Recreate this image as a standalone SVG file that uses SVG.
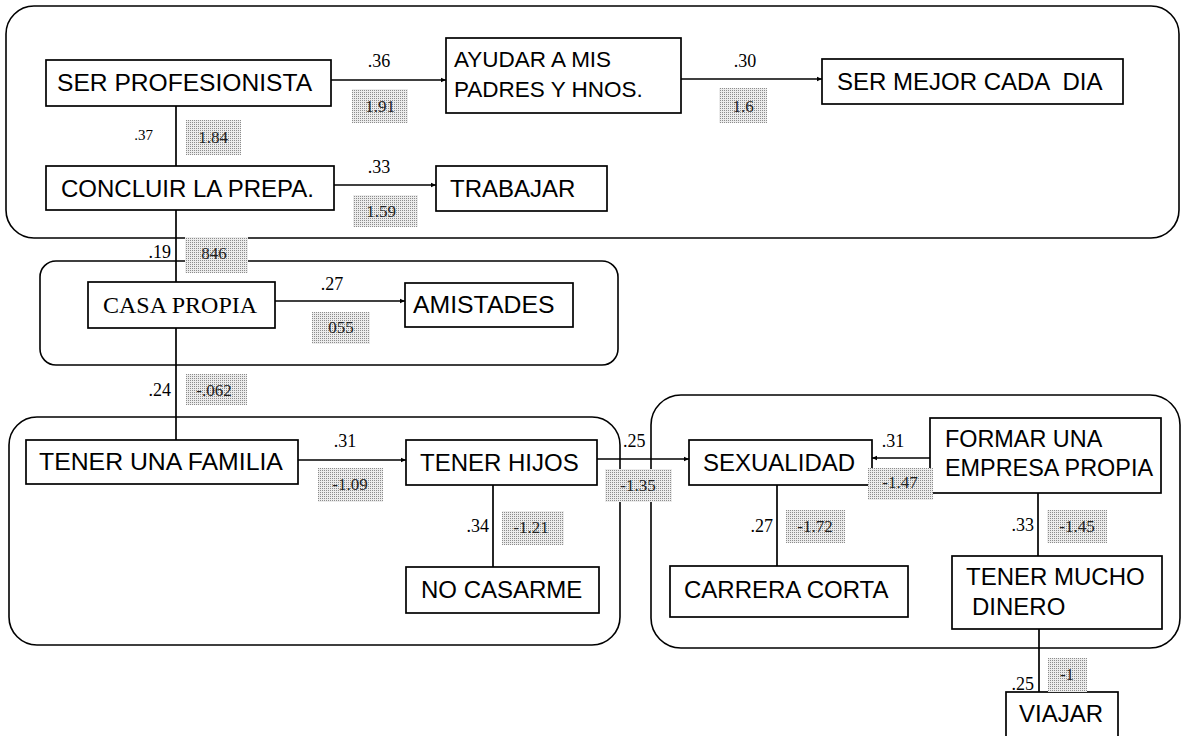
<svg xmlns="http://www.w3.org/2000/svg" width="1183" height="736" viewBox="0 0 1183 736">
<defs>
<pattern id="dots" width="2" height="2" patternUnits="userSpaceOnUse">
<rect width="2" height="2" fill="#ececec"/>
<rect width="1" height="1" fill="#8c8c8c"/>
</pattern>
<marker id="ah" markerWidth="6" markerHeight="6" refX="5" refY="3" orient="auto" markerUnits="userSpaceOnUse">
<path d="M0,0.8 L5,3 L0,5.2 z" fill="#000"/>
</marker>
</defs>
<style>
.grp{fill:none;stroke:#000;stroke-width:1.6}
.box{fill:#fff;stroke:#000;stroke-width:1.7}
.lbl{font-family:"Liberation Sans",Arial,sans-serif;font-size:24px;fill:#000}
.ser{font-family:"Liberation Serif","Times New Roman",serif;font-size:24px;fill:#000}
.num{font-family:"Liberation Serif","Times New Roman",serif;font-size:18px;fill:#000}
.gbox{fill:url(#dots);stroke:none}
.gtx{font-family:"Liberation Serif","Times New Roman",serif;font-size:17px;fill:#222;text-anchor:middle}
.con{stroke:#000;stroke-width:1.7;fill:none}
</style>
<rect width="1183" height="736" fill="#fff"/>

<g id="groups">
<rect class="grp" x="6" y="6" width="1173" height="232" rx="28" ry="28"/>
<rect class="grp" x="40" y="261" width="578" height="104" rx="16" ry="16"/>
<rect class="grp" x="9" y="417" width="611" height="228" rx="28" ry="28"/>
<rect class="grp" x="651" y="395" width="529" height="253" rx="30" ry="30"/>
</g>

<g id="connectors">
<line class="con" x1="331" y1="80" x2="446" y2="80" marker-end="url(#ah)"/>
<line class="con" x1="681" y1="79" x2="822" y2="79" marker-end="url(#ah)"/>
<line class="con" x1="176" y1="106" x2="176" y2="166"/>
<line class="con" x1="334" y1="185" x2="436" y2="185" marker-end="url(#ah)"/>
<line class="con" x1="176" y1="210" x2="176" y2="282"/>
<line class="con" x1="275" y1="301" x2="405" y2="301" marker-end="url(#ah)"/>
<line class="con" x1="176" y1="328" x2="176" y2="440"/>
<line class="con" x1="298" y1="460" x2="406" y2="460" marker-end="url(#ah)"/>
<line class="con" x1="597" y1="459" x2="689" y2="459" marker-end="url(#ah)"/>
<line class="con" x1="493" y1="485" x2="493" y2="567"/>
<line class="con" x1="930" y1="458" x2="872" y2="458" marker-end="url(#ah)"/>
<line class="con" x1="777" y1="485" x2="777" y2="566"/>
<line class="con" x1="1038" y1="493" x2="1038" y2="556"/>
<line class="con" x1="1039" y1="629" x2="1039" y2="692"/>
</g>

<g id="n-ser-profesionista">
<rect class="box" x="46" y="60" width="285" height="46"/>
<text class="lbl" x="57" y="91" style="font-size:24.6px">SER PROFESIONISTA</text>
</g>
<g id="n-ayudar">
<rect class="box" x="446" y="38" width="235" height="75"/>
<text class="lbl" x="454" y="67" style="font-size:22.5px">AYUDAR A MIS</text>
<text class="lbl" x="454" y="97" style="font-size:22.5px">PADRES Y HNOS.</text>
</g>
<g id="n-ser-mejor">
<rect class="box" x="822" y="59" width="301" height="45"/>
<text class="lbl" x="837" y="90" xml:space="preserve">SER MEJOR CADA  DIA</text>
</g>
<g id="n-concluir">
<rect class="box" x="46" y="166" width="288" height="44"/>
<text class="lbl" x="61" y="197">CONCLUIR LA PREPA.</text>
</g>
<g id="n-trabajar">
<rect class="box" x="436" y="166" width="171" height="45"/>
<text class="lbl" x="450" y="197">TRABAJAR</text>
</g>
<g id="n-casa-propia">
<rect class="box" x="88" y="282" width="187" height="46"/>
<text class="ser" x="103" y="313">CASA PROPIA</text>
</g>
<g id="n-amistades">
<rect class="box" x="405" y="283" width="168" height="44"/>
<text class="lbl" x="413" y="313" style="font-size:24.8px">AMISTADES</text>
</g>
<g id="n-tener-familia">
<rect class="box" x="26" y="440" width="272" height="44"/>
<text class="lbl" x="39" y="470" style="font-size:24.8px">TENER UNA FAMILIA</text>
</g>
<g id="n-tener-hijos">
<rect class="box" x="406" y="440" width="191" height="45"/>
<text class="lbl" x="420" y="471">TENER HIJOS</text>
</g>
<g id="n-no-casarme">
<rect class="box" x="406" y="567" width="193" height="46"/>
<text class="lbl" x="421" y="598">NO CASARME</text>
</g>
<g id="n-sexualidad">
<rect class="box" x="689" y="440" width="183" height="45"/>
<text class="lbl" x="703" y="471">SEXUALIDAD</text>
</g>
<g id="n-formar">
<rect class="box" x="930" y="418" width="231" height="75"/>
<text class="lbl" x="945" y="447" style="font-size:23.4px">FORMAR UNA</text>
<text class="lbl" x="945" y="476" style="font-size:23.4px">EMPRESA PROPIA</text>
</g>
<g id="n-carrera-corta">
<rect class="box" x="670" y="566" width="238" height="51"/>
<text class="lbl" x="684" y="598">CARRERA CORTA</text>
</g>
<g id="n-tener-mucho">
<rect class="box" x="952" y="556" width="210" height="73"/>
<text class="lbl" x="966" y="585">TENER MUCHO</text>
<text class="lbl" x="972" y="615">DINERO</text>
</g>
<g id="n-viajar">
<rect class="box" x="1006" y="692" width="112" height="60"/>
<text class="lbl" x="1019" y="722">VIAJAR</text>
</g>

<g id="weights">
<rect class="gbox" x="352" y="89" width="56" height="34"/><text class="gtx" x="380" y="112">1.91</text>
<rect class="gbox" x="719" y="88" width="48" height="35"/><text class="gtx" x="743" y="112">1.6</text>
<rect class="gbox" x="186" y="120" width="55" height="35"/><text class="gtx" x="213" y="143">1.84</text>
<rect class="gbox" x="353" y="195" width="65" height="32"/><text class="gtx" x="381" y="217">1.59</text>
<rect class="gbox" x="185" y="237" width="63" height="36"/><text class="gtx" x="214" y="259">846</text>
<rect class="gbox" x="312" y="312" width="58" height="32"/><text class="gtx" x="341" y="333">055</text>
<rect class="gbox" x="186" y="374" width="61" height="31"/><text class="gtx" x="214" y="396">-.062</text>
<rect class="gbox" x="318" y="468" width="65" height="34"/><text class="gtx" x="350" y="490">-1.09</text>
<rect class="gbox" x="502" y="511" width="62" height="34"/><text class="gtx" x="531" y="533">-1.21</text>
<rect class="gbox" x="605" y="469" width="67" height="33"/><text class="gtx" x="638" y="491">-1.35</text>
<rect class="gbox" x="868" y="468" width="65" height="32"/><text class="gtx" x="900" y="488">-1.47</text>
<rect class="gbox" x="786" y="510" width="59" height="33"/><text class="gtx" x="815" y="532">-1.72</text>
<rect class="gbox" x="1047" y="510" width="60" height="33"/><text class="gtx" x="1077" y="532">-1.45</text>
<rect class="gbox" x="1048" y="658" width="39" height="34"/><text class="gtx" x="1067" y="680">-1</text>
</g>

<g id="coefficients">
<text class="num" x="379" y="67" text-anchor="middle">.36</text>
<text class="num" x="745" y="67" text-anchor="middle">.30</text>
<text class="num" x="153" y="140" text-anchor="end" style="font-size:15px">.37</text>
<text class="num" x="379" y="173" text-anchor="middle">.33</text>
<text class="num" x="171" y="258" text-anchor="end">.19</text>
<text class="num" x="332" y="290" text-anchor="middle">.27</text>
<text class="num" x="171" y="396" text-anchor="end">.24</text>
<text class="num" x="345" y="447" text-anchor="middle">.31</text>
<text class="num" x="623" y="447">.25</text>
<text class="num" x="893" y="447" text-anchor="middle">.31</text>
<text class="num" x="489" y="532" text-anchor="end">.34</text>
<text class="num" x="773" y="532" text-anchor="end">.27</text>
<text class="num" x="1034" y="531" text-anchor="end">.33</text>
<text class="num" x="1034" y="690" text-anchor="end">.25</text>
</g>
</svg>
